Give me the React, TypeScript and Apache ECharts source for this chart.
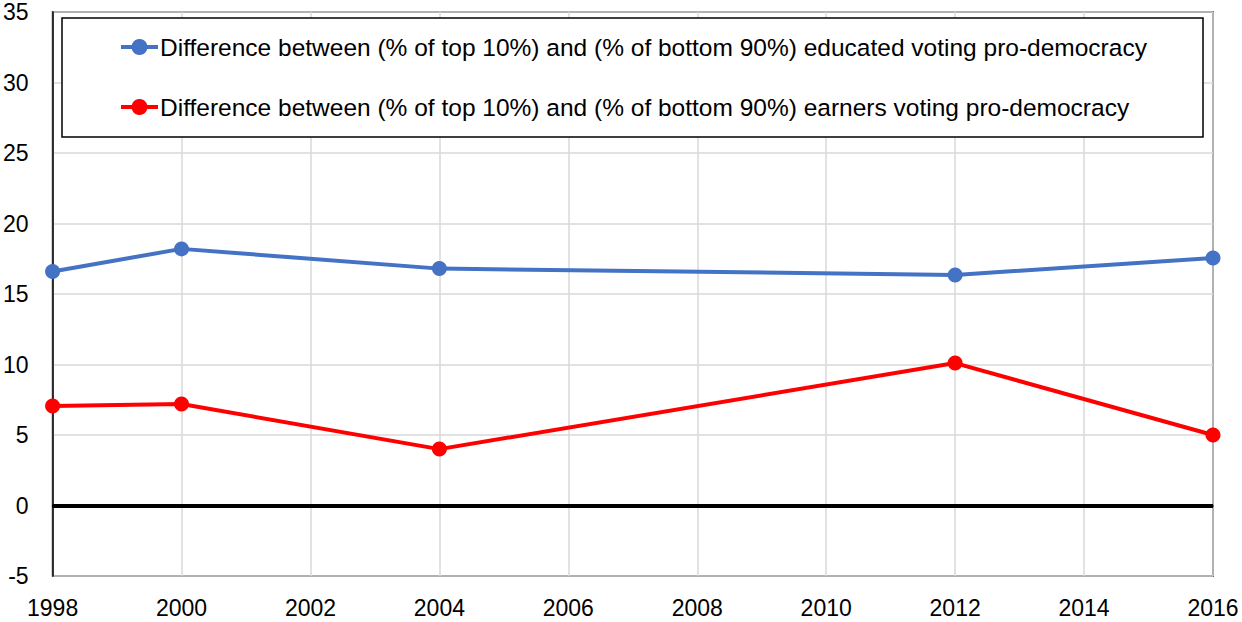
import React, { useEffect, useRef } from "react";
import * as echarts from "echarts";

const years = [1998, 2000, 2004, 2012, 2016];
const educatedDiff = [16.6, 18.2, 16.8, 16.35, 17.55];
const earnersDiff = [7.05, 7.2, 4.0, 10.1, 5.0];
const seriesNames = [
  "Difference between (% of top 10%) and (% of bottom 90%) educated voting pro-democracy",
  "Difference between (% of top 10%) and (% of bottom 90%) earners voting pro-democracy",
];

export default function App() {
  const ref = useRef<HTMLDivElement>(null);
  useEffect(() => {
    document.body.style.margin = "0";
    const chart = echarts.init(ref.current!, null, { renderer: "svg" });
    const font = "Liberation Sans, Arial, sans-serif";
    chart.setOption({
      animation: false,
      backgroundColor: "#ffffff",
      grid: {
        left: 51,
        right: 29,
        top: 12,
        bottom: 46,
        show: true,
        borderColor: "#000000",
        borderWidth: 1.5,
        backgroundColor: "transparent",
      },
      legend: {
        orient: "vertical",
        left: 114,
        top: 29,
        itemGap: 34,
        itemWidth: 37,
        itemHeight: 20,
        z: 5,
        lineStyle: { width: 4 },
        textStyle: { fontFamily: font, fontSize: 24.5, color: "#000", lineHeight: 26, padding: [0, 0, 0, -3] },
        data: seriesNames,
      },
      graphic: [
        {
          type: "rect",
          z: 4,
          shape: { x: 62, y: 18, width: 1141, height: 119 },
          style: { fill: "#ffffff", stroke: "#000000", lineWidth: 1.5 },
        },
      ],
      xAxis: {
        type: "value",
        min: 1998,
        max: 2016,
        interval: 2,
        axisLine: { show: true, lineStyle: { color: "#000", width: 1.5 } },
        axisTick: { show: false },
        splitLine: { show: true, lineStyle: { color: "#d9d9d9", width: 1.5 } },
        axisLabel: { fontFamily: font, fontSize: 23, color: "#000", margin: 20, formatter: (v: number) => String(v) },
      },
      yAxis: {
        type: "value",
        min: -5,
        max: 35,
        interval: 5,
        axisLine: { show: true, lineStyle: { color: "#000", width: 1.5 } },
        axisTick: { show: false },
        splitLine: { show: true, lineStyle: { color: "#d9d9d9", width: 1.5 } },
        axisLabel: { fontFamily: font, fontSize: 23, color: "#000", margin: 24 },
      },
      series: [
        {
          name: seriesNames[0],
          type: "line",
          data: years.map((y, i) => [y, educatedDiff[i]]),
          symbol: "circle",
          symbolSize: 15,
          color: "#4472C4",
          lineStyle: { width: 4, color: "#4472C4" },
          z: 3,
          markLine: {
            silent: true,
            symbol: "none",
            label: { show: false },
            lineStyle: { color: "#000", width: 4, type: "solid" },
            data: [{ yAxis: 0 }],
            z: 2,
          },
        },
        {
          name: seriesNames[1],
          type: "line",
          data: years.map((y, i) => [y, earnersDiff[i]]),
          symbol: "circle",
          symbolSize: 15,
          color: "#FF0000",
          lineStyle: { width: 4, color: "#FF0000" },
          z: 3,
        },
      ],
    });
    return () => chart.dispose();
  }, []);
  return <div ref={ref} style={{ width: 1242, height: 622 }} />;
}
